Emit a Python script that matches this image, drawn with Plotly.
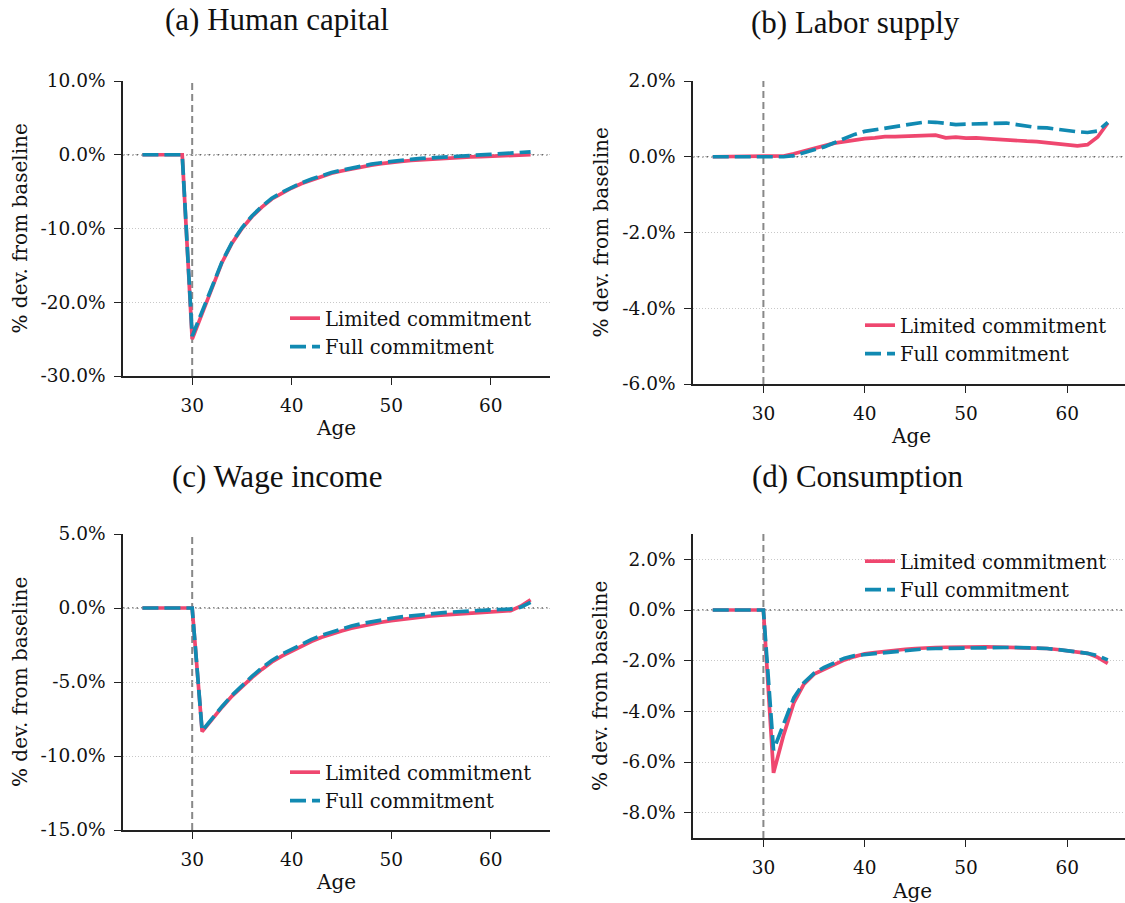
import plotly.graph_objects as go

# ---------------- data ----------------
ages = list(range(25, 65))

hc_limited = [0, 0, 0, 0, 0, -25.0, -21.6, -18.0, -14.6, -12.0, -10.0, -8.4, -7.1, -6.0, -5.2,
              -4.5, -3.9, -3.4, -2.9, -2.5, -2.2, -1.9, -1.65, -1.4, -1.2, -1.0, -0.9, -0.78,
              -0.68, -0.58, -0.5, -0.43, -0.36, -0.3, -0.25, -0.2, -0.15, -0.1, -0.05, 0.0]
hc_full = [0, 0, 0, 0, 0, -24.6, -21.4, -17.9, -14.5, -11.9, -9.9, -8.3, -7.0, -5.9, -5.1,
           -4.4, -3.8, -3.3, -2.8, -2.4, -2.1, -1.8, -1.5, -1.28, -1.08, -0.9, -0.75, -0.62,
           -0.5, -0.4, -0.3, -0.22, -0.15, -0.08, -0.02, 0.05, 0.12, 0.2, 0.28, 0.4]

ls_limited = [0, 0, 0, 0, 0, 0, 0.0, 0.02, 0.08, 0.15, 0.21, 0.29, 0.36, 0.40, 0.45,
              0.48, 0.50, 0.53, 0.53, 0.54, 0.54, 0.55, 0.57, 0.50, 0.52, 0.49, 0.50, 0.48,
              0.46, 0.43, 0.43, 0.41, 0.40, 0.37, 0.34, 0.33, 0.29, 0.32, 0.52, 0.89]
ls_full = [0, 0, 0, 0, 0, 0, 0.0, 0.0, 0.03, 0.10, 0.17, 0.26, 0.37, 0.49, 0.59,
           0.67, 0.71, 0.75, 0.78, 0.83, 0.88, 0.92, 0.91, 0.89, 0.85, 0.86, 0.87, 0.87,
           0.87, 0.89, 0.85, 0.81, 0.77, 0.76, 0.72, 0.69, 0.66, 0.64, 0.68, 0.91]

wi_limited = [0, 0, 0, 0, 0, 0, -8.35, -7.5, -6.7, -5.95, -5.3, -4.7, -4.15, -3.65, -3.25,
              -2.9, -2.55, -2.25, -1.98, -1.75, -1.55, -1.37, -1.22, -1.08, -0.96, -0.85,
              -0.76, -0.68, -0.6, -0.54, -0.48, -0.43, -0.38, -0.34, -0.3, -0.27, -0.23,
              -0.18, 0.12, 0.56]
wi_full = [0, 0, 0, 0, 0, 0, -8.3, -7.45, -6.65, -5.9, -5.22, -4.62, -4.05, -3.55, -3.13,
           -2.77, -2.43, -2.12, -1.85, -1.62, -1.41, -1.22, -1.06, -0.92, -0.8, -0.7,
           -0.6, -0.52, -0.45, -0.39, -0.33, -0.28, -0.23, -0.19, -0.16, -0.12, -0.1,
           -0.07, 0.05, 0.38]

co_limited = [0, 0, 0, 0, 0, 0, -6.43, -4.93, -3.67, -2.93, -2.53, -2.33, -2.13, -1.97, -1.84,
              -1.73, -1.68, -1.63, -1.59, -1.55, -1.52, -1.49, -1.48, -1.47, -1.46, -1.45,
              -1.45, -1.45, -1.46, -1.47, -1.47, -1.48, -1.5, -1.52, -1.56, -1.6, -1.65,
              -1.71, -1.87, -2.11]
co_full = [0, 0, 0, 0, 0, 0, -5.53, -4.47, -3.47, -2.87, -2.5, -2.27, -2.07, -1.9, -1.8,
           -1.76, -1.71, -1.67, -1.63, -1.6, -1.56, -1.53, -1.52, -1.51, -1.5, -1.49,
           -1.48, -1.48, -1.48, -1.48, -1.48, -1.49, -1.5, -1.52, -1.56, -1.6, -1.65,
           -1.71, -1.8, -1.97]

titles = ["(a) Human capital", "(b) Labor supply", "(c) Wage income", "(d) Consumption"]
series_names = ["Limited commitment", "Full commitment"]
x_ticks = [30, 40, 50, 60]
y_ticks_a = [-30, -20, -10, 0, 10]
y_ticks_b = [-6, -4, -2, 0, 2]
y_ticks_c = [-15, -10, -5, 0, 5]
y_ticks_d = [-8, -6, -4, -2, 0, 2]
y_ranges = [[-30, 10], [-6, 2], [-15, 5], [-9, 3]]
shock_age = 30

# ---------------- layout helpers ----------------
W, H = 1125, 903
def px(x): return x / W
def py(y): return 1 - y / H

RED = "#ef476f"
BLUE = "#118ab2"
FONT = "DejaVu Serif"
TXT = "#111111"

# plot areas in pixels: (left, right, top, bottom)
boxes = [(123, 550, 81, 376), (693, 1125, 81, 384), (123, 550, 534, 830), (693, 1125, 534, 838)]
x_ranges = [[23.05, 65.95], [23.05, 65.7], [23.05, 65.95], [23.05, 65.7]]
data = [(hc_limited, hc_full), (ls_limited, ls_full), (wi_limited, wi_full), (co_limited, co_full)]
yticks_all = [y_ticks_a, y_ticks_b, y_ticks_c, y_ticks_d]
# legend placement: (text left px, first row center px)
legend_pos = [(327, 314), (902, 321), (327, 768), (902, 557)]
title_pos = [(277, 20), (856, 22), (277, 476), (857, 476)]
ylab_x = [20, 600, 20, 600]
xlab_x = [336, 911, 336, 912]
xlab_y = [428, 436, 882, 891]

fig = go.Figure()
annotations = []
shapes = []

for i in range(4):
    l, r, t, b = boxes[i]
    xa = "x" if i == 0 else f"x{i+1}"
    ya = "y" if i == 0 else f"y{i+1}"
    lg = "legend" if i == 0 else f"legend{i+1}"
    lim, full = data[i]
    fig.add_trace(go.Scatter(x=ages, y=lim, mode="lines", name=series_names[0],
                             line=dict(color=RED, width=3.7), xaxis=xa, yaxis=ya, legend=lg))
    fig.add_trace(go.Scatter(x=ages, y=full, mode="lines", name=series_names[1],
                             line=dict(color=BLUE, width=3.7, dash="16px,6px"),
                             xaxis=xa, yaxis=ya, legend=lg))

    axis_common = dict(showline=True, linecolor="#222222", linewidth=1.5,
                       ticks="outside", ticklen=7, tickwidth=1.3, tickcolor="#222222",
                       tickfont=dict(family=FONT, size=18.5, color=TXT), mirror=False,
                       automargin=False)
    xkey = "xaxis" if i == 0 else f"xaxis{i+1}"
    ykey = "yaxis" if i == 0 else f"yaxis{i+1}"
    fig.layout[xkey] = dict(domain=[px(l), px(r)], anchor=ya, range=x_ranges[i],
                            tickvals=x_ticks, ticktext=[str(v) for v in x_ticks],
                            showgrid=False, zeroline=False, ticklabelstandoff=5, **axis_common)
    yt = yticks_all[i]
    fig.layout[ykey] = dict(domain=[py(b), py(t)], anchor=xa, range=y_ranges[i],
                            tickvals=yt, ticktext=[f"{v:.1f}%" for v in yt],
                            showgrid=True, gridcolor="#c8c8c8", gridwidth=0.9, griddash="1px,2px",
                            zeroline=False, ticklabelstandoff=5, **axis_common)

    # zero reference line (dotted) and shock age line (dashed)
    shapes.append(dict(type="line", xref=f"{xa} domain", yref=ya, x0=0, x1=1, y0=0, y1=0,
                       line=dict(color="#666666", width=1.4, dash="1.5px,3px"), layer="below"))
    shapes.append(dict(type="line", xref=xa, yref=f"{ya} domain", x0=shock_age, x1=shock_age,
                       y0=0, y1=1, line=dict(color="#888888", width=2, dash="7px,4px"), layer="below"))

    tx, ty = title_pos[i]
    annotations.append(dict(text=titles[i], x=px(tx), y=py(ty), xref="paper", yref="paper",
                            showarrow=False, xanchor="center", yanchor="middle",
                            font=dict(family="Liberation Serif", size=31, color=TXT)))
    annotations.append(dict(text="% dev. from baseline", x=px(ylab_x[i]), y=py((t + b) / 2),
                            xref="paper", yref="paper", showarrow=False, textangle=-90,
                            xanchor="center", yanchor="middle",
                            font=dict(family=FONT, size=20, color=TXT)))
    annotations.append(dict(text="Age", x=px(xlab_x[i]), y=py(xlab_y[i]),
                            xref="paper", yref="paper", showarrow=False,
                            xanchor="center", yanchor="middle",
                            font=dict(family=FONT, size=20, color=TXT)))

    lx, ly = legend_pos[i]
    fig.layout[lg] = dict(x=px(lx - 42), y=py(ly - 15), xanchor="left", yanchor="top",
                          bgcolor="rgba(0,0,0,0)", borderwidth=0,
                          font=dict(family=FONT, size=19.5, color=TXT), tracegroupgap=0)

fig.update_layout(width=W, height=H, margin=dict(l=0, r=0, t=0, b=0, pad=0, autoexpand=False),
                  paper_bgcolor="white", plot_bgcolor="white",
                  annotations=annotations, shapes=shapes, showlegend=True)

fig.write_html("out.html")
